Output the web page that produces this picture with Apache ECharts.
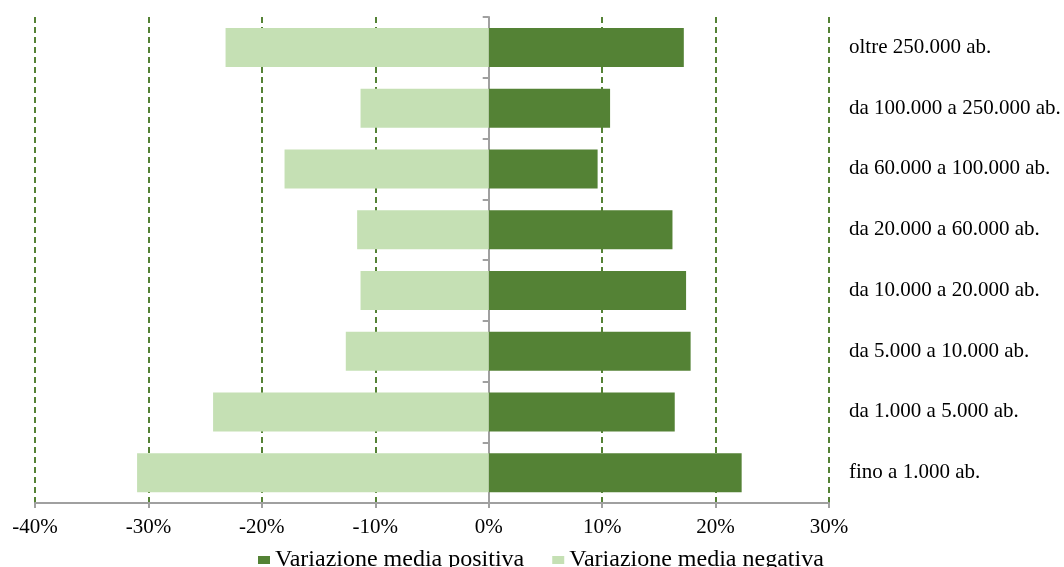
<!DOCTYPE html>
<html>
<head>
<meta charset="utf-8">
<script src="https://cdn.jsdelivr.net/npm/echarts@6/dist/echarts.min.js"></script>
<style>
  html, body { margin: 0; padding: 0; background: #fff; }
  #chart { width: 1064px; height: 567px; }
</style>
</head>
<body>
<div id="chart"></div>
<script>
// Population classes, listed bottom to top
const categories = [
  'fino a 1.000 ab.',
  'da 1.000 a 5.000 ab.',
  'da 5.000 a 10.000 ab.',
  'da 10.000 a 20.000 ab.',
  'da 20.000 a 60.000 ab.',
  'da 60.000 a 100.000 ab.',
  'da 100.000 a 250.000 ab.',
  'oltre 250.000 ab.'
];

// Average variation (%)
const positiveVariation = [22.3, 16.4, 17.8, 17.4, 16.2, 9.6, 10.7, 17.2];
const negativeVariation = [-31.0, -24.3, -12.6, -11.3, -11.6, -18.0, -11.3, -23.2];

const seriesNames = ['Variazione media positiva', 'Variazione media negativa'];

// x-axis range and step (%)
const xMin = -40;
const xMax = 30;
const xStep = 10;

const serif = '"Liberation Serif", "Times New Roman", serif';
const darkGreen = '#548235';
const lightGreen = '#C5E0B4';
const axisGrey = '#A0A0A0';

const chart = echarts.init(document.getElementById('chart'), null, { renderer: 'canvas' });

chart.setOption({
  animation: false,
  backgroundColor: '#ffffff',
  grid: { left: 35, right: 235, top: 17, bottom: 64, containLabel: false },
  legend: {
    left: 253,
    top: 543,
    itemWidth: 12,
    itemHeight: 8,
    itemGap: 28,
    icon: 'rect',
    textStyle: { fontFamily: serif, fontSize: 24, color: '#000' },
    data: seriesNames
  },
  xAxis: {
    type: 'value',
    min: xMin,
    max: xMax,
    interval: xStep,
    axisLine: { show: true, lineStyle: { color: axisGrey, width: 2 } },
    axisTick: { show: true, length: 5, lineStyle: { color: axisGrey, width: 2 } },
    axisLabel: {
      margin: 14,
      fontFamily: serif,
      fontSize: 21,
      color: '#000',
      formatter: v => v + '%'
    },
    splitLine: {
      show: true,
      lineStyle: { color: darkGreen, width: 2, type: [6, 4] }
    }
  },
  yAxis: [
    {
      // axis drawn through 0%, ticks between classes
      type: 'category',
      data: categories,
      axisLine: { show: true, onZero: true, lineStyle: { color: axisGrey, width: 2 } },
      axisTick: { show: true, length: 6, lineStyle: { color: axisGrey, width: 2 } },
      axisLabel: { show: false },
      splitLine: { show: false }
    },
    {
      // class names on the right side
      type: 'category',
      data: categories,
      position: 'right',
      axisLine: { show: false },
      axisTick: { show: false },
      axisLabel: {
        margin: 20,
        align: 'left',
        fontFamily: serif,
        fontSize: 21,
        color: '#000'
      },
      splitLine: { show: false }
    }
  ],
  series: [
    {
      name: seriesNames[0],
      type: 'bar',
      yAxisIndex: 0,
      data: positiveVariation,
      barWidth: 39,
      barGap: '-100%',
      itemStyle: { color: darkGreen }
    },
    {
      name: seriesNames[1],
      type: 'bar',
      yAxisIndex: 0,
      data: negativeVariation,
      barWidth: 39,
      barGap: '-100%',
      itemStyle: { color: lightGreen }
    }
  ]
});
</script>
</body>
</html>
